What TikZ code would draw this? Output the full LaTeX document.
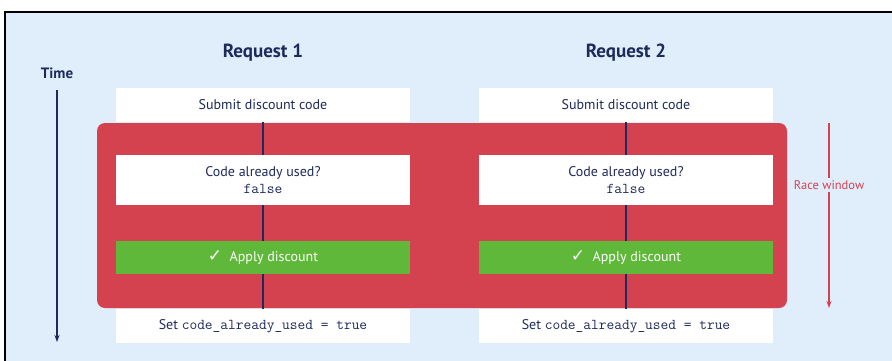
\documentclass[tikz,border=0pt]{standalone}
\usepackage{fontspec}
\setmainfont{PT Sans}
\newfontfamily\symfont{DejaVu Sans}
\usetikzlibrary{arrows.meta}
\definecolor{bg_blue}{HTML}{E0EDFB}
\definecolor{navy}{HTML}{1E2A5C}
\definecolor{race_red}{HTML}{D4424F}
\definecolor{ok_green}{HTML}{5FB83A}
\tikzset{
	boxnode/.style = {
		align=center,
		inner sep=0pt,
		text centered,
		text=navy,
		font=\fontsize{14}{16}\selectfont,
		minimum width=294,
		anchor=center
	},
	node_w/.style = {
		boxnode,
		rectangle,
		fill=white,
		minimum height=34
	},
	node_chk/.style = {
		node_w,
		minimum height=50
	},
	node_ok/.style = {
		boxnode,
		rectangle,
		fill=ok_green,
		text=white,
		minimum height=33
	},
	node_head/.style = {
		inner sep=0pt,
		text=navy,
		font=\bfseries\fontsize{19}{21}\selectfont
	},
	flow/.style = {
		navy,
		line width=1.1pt
	},
}
\newcommand{\codetxt}[1]{{\ttfamily\fontsize{15}{17}\selectfont #1}}

\begin{document}
\begin{tikzpicture}[x=1pt,y=-1pt]
\useasboundingbox (0,0) rectangle (892,360);
\clip (0,0) rectangle (892,360);
% frame and background
\fill[white] (0,0) rectangle (892,360);
\draw[fill=bg_blue, line width=1.8pt] (5,12) rectangle (900,370);

% headings
\node [node_head] (req1) at (263,53) {Request 1};
\node [node_head] (req2) at (626,53) {Request 2};
\node [node_head, font=\bfseries\fontsize{15}{17}\selectfont] (time) at (57,73) {Time};
\coordinate (time_end) at (57,342);
\draw[navy, line width=1.6pt, -{Stealth[length=7pt,width=5pt]}] (time.south) ++(0,11) -- (time_end);

% shared window of both requests
\fill[race_red, rounded corners=8] (97,123) rectangle (787,308);

\foreach \i/\x in {1/263, 2/626} {
	\node [node_w] (sub\i) at (\x,105) {Submit discount code};
	\node [node_chk] (chk\i) at (\x,180) {Code already used?\\[1pt]\codetxt{false}};
	\node [node_ok] (app\i) at (\x,257.5) {{\symfont\fontsize{17}{17}\selectfont\char"2713}\ \ Apply discount};
	\node [node_w] (set\i) at (\x,326) {Set \codetxt{code\_already\_used = true}};
	\draw[flow] (sub\i) -- (chk\i);
	\draw[flow] (chk\i) -- (app\i);
	\draw[flow] (app\i) -- (set\i);
}

% race window marker
\node [inner sep=2pt, text=race_red, font=\fontsize{12.5}{14}\selectfont] (race) at (829,185) {Race window};
\coordinate (race_top) at (829,123);
\coordinate (race_end) at (829,308);
\draw[race_red, line width=1.3pt] (race_top) -- (race.north);
\draw[race_red, line width=1.3pt, -{Stealth[length=7pt,width=5pt]}] (race.south) -- (race_end);
\end{tikzpicture}
\end{document}
